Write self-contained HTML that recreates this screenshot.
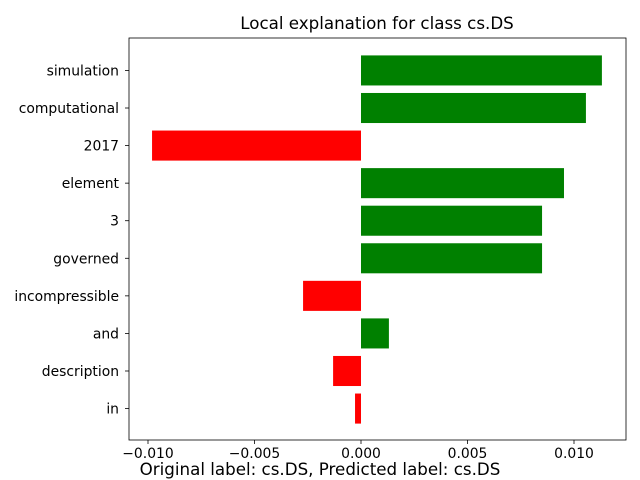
<!DOCTYPE html>
<html><head><meta charset="utf-8"><style>body{margin:0;background:#fff}svg{display:block;font-family:"DejaVu Sans","Liberation Sans",sans-serif}</style></head>
<body>
<svg id="chart" width="640" height="480" viewBox="0 0 640 480">
<rect x="0" y="0" width="640" height="480" fill="#fff"/>
<text x="377" y="29" font-size="16.7" text-anchor="middle">Local explanation for class cs.DS</text>
<g id="bars"></g>
<g id="axes"></g>
<text x="320" y="475" font-size="16.7" text-anchor="middle">Original label: cs.DS, Predicted label: cs.DS</text>
</svg>
<script>
const features = ["simulation","computational","2017","element","3","governed","incompressible","and","description","in"];
const weights = [0.01131,0.01056,-0.00981,0.00953,0.0085,0.0085,-0.00272,0.00131,-0.00131,-0.00028];
const xTicks = [-0.010,-0.005,0,0.005,0.010];
const xTickLabels = ["\u22120.010","\u22120.005","0.000","0.005","0.010"];

const L=129,R=626,T=38,B=440;
const x0=361, pxPerUnit=21300;
function xs(v){return x0+v*pxPerUnit;}
const step=(B-T)/(features.length+0.7);
function ys(i){return T+0.5+step*0.35+step*(i+0.5);}
const NS="http://www.w3.org/2000/svg";
const bars=document.getElementById('bars'), axes=document.getElementById('axes');
function mk(tag,attrs,parent){const e=document.createElementNS(NS,tag);for(const k in attrs)e.setAttribute(k,attrs[k]);parent.appendChild(e);return e;}
features.forEach((f,i)=>{
  const w=weights[i], yc=ys(i), h=step*0.8;
  const r=mk('rect',{x:Math.min(xs(0),xs(w)),y:yc-h/2,width:Math.abs(xs(w)-xs(0)),height:h,fill:w>=0?'#008000':'#ff0000'},bars);
  
  
  mk('line',{x1:L,x2:L-4,y1:yc,y2:yc,stroke:'#000','stroke-width':0.8},axes);
  const t=mk('text',{x:L-10,y:yc+5,'font-size':13.9,'text-anchor':'end'},axes);
  t.textContent=f;
  
  
});
xTicks.forEach((v,i)=>{
  const x=xs(v);
  mk('line',{x1:x,x2:x,y1:B,y2:B+4,stroke:'#000','stroke-width':0.8},axes);
  const t=mk('text',{x:x,y:B+18,'font-size':13.9,'text-anchor':'middle'},axes);
  t.textContent=xTickLabels[i];
  
  
});
const fr=mk('rect',{x:L,y:T,width:R-L,height:B-T,fill:'none',stroke:'#000','stroke-width':0.8},axes);


</script>
</body></html>
